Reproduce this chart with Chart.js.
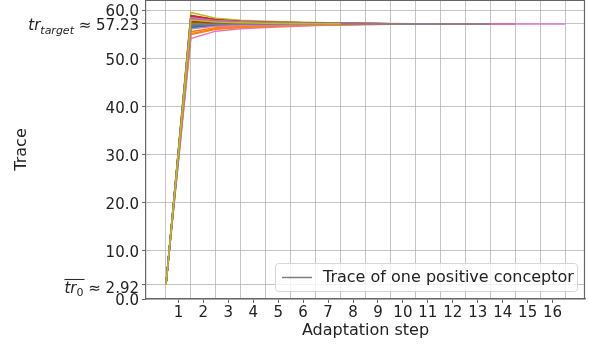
<!DOCTYPE html>
<html>
<head>
<meta charset="utf-8">
<script src="https://cdn.jsdelivr.net/npm/chart.js@4"></script>
<style>
  html, body { margin: 0; padding: 0; background: #fff; }
  #wrap { width: 590px; height: 344px; }
</style>
</head>
<body>
<div id="wrap"><canvas id="graph"></canvas></div>
<script>
// x positions of the adaptation steps (points sit between the labelled ticks)
const steps = [0.5, 1.5, 2.5, 3.5, 4.5, 5.5, 6.5, 7.5, 8.5, 9.5, 10.5, 11.5, 12.5, 13.5, 14.5, 15.5, 16.5];
const xTickLabels = [1, 2, 3, 4, 5, 6, 7, 8, 9, 10, 11, 12, 13, 14, 15, 16];
const yTickValues = [0, 2.92, 10, 20, 30, 40, 50, 57.23, 60];
const trStart = 2.92;
const trTarget = 57.23;
const legendLabel = 'Trace of one positive conceptor';

// one array per conceptor trace
const trace00 = [2.92, 56.4, 56.82, 56.96, 57.03, 57.09, 57.13, 57.16, 57.19, 57.2, 57.22, 57.23];
const trace01 = [2.92, 55.6, 56.42, 56.69, 56.84, 56.95, 57.03, 57.1, 57.15, 57.18, 57.21, 57.23];
const trace02 = [2.92, 57.4, 57.32, 57.29, 57.27, 57.26, 57.25, 57.24, 57.24, 57.24, 57.23, 57.23];
const trace03 = [2.92, 59.0, 58.12, 57.81, 57.65, 57.53, 57.44, 57.37, 57.32, 57.28, 57.26, 57.23];
const trace04 = [2.92, 58.6, 57.92, 57.68, 57.56, 57.46, 57.39, 57.34, 57.3, 57.27, 57.25, 57.23];
const trace05 = [2.92, 58.8, 58.02, 57.75, 57.61, 57.5, 57.42, 57.36, 57.31, 57.28, 57.25, 57.23];
const trace06 = [2.92, 54.2, 55.72, 56.23, 56.5, 56.71, 56.87, 56.99, 57.08, 57.14, 57.18, 57.23];
const trace07 = [2.92, 58.2, 57.72, 57.55, 57.46, 57.39, 57.35, 57.31, 57.28, 57.26, 57.24, 57.23];
const trace08 = [2.92, 59.6, 58.42, 58.01, 57.8, 57.63, 57.51, 57.42, 57.35, 57.3, 57.27, 57.23];
const trace09 = [2.92, 58.0, 57.62, 57.48, 57.41, 57.36, 57.32, 57.29, 57.27, 57.25, 57.24, 57.23];
const trace10 = [2.92, 56.6, 56.92, 57.02, 57.08, 57.12, 57.15, 57.18, 57.2, 57.21, 57.22, 57.23];
const trace11 = [2.92, 55.2, 56.22, 56.56, 56.74, 56.88, 56.99, 57.07, 57.13, 57.17, 57.2, 57.23];
const trace12 = [2.92, 57.6, 57.42, 57.35, 57.32, 57.29, 57.27, 57.26, 57.25, 57.24, 57.24, 57.23];
const trace13 = [2.92, 58.9, 58.07, 57.78, 57.63, 57.51, 57.43, 57.36, 57.31, 57.28, 57.26, 57.23];
const trace14 = [2.92, 58.4, 57.82, 57.62, 57.51, 57.43, 57.37, 57.32, 57.29, 57.27, 57.25, 57.23];
const trace15 = [2.92, 57.0, 57.12, 57.15, 57.17, 57.19, 57.2, 57.21, 57.22, 57.22, 57.23];
const trace16 = [2.92, 58.5, 57.87, 57.65, 57.53, 57.45, 57.38, 57.33, 57.29, 57.27, 57.25, 57.23];
const trace17 = [2.92, 57.9, 57.57, 57.45, 57.39, 57.34, 57.31, 57.28, 57.26, 57.25, 57.24, 57.23];
const trace18 = [2.92, 57.3, 57.27, 57.25, 57.25, 57.24, 57.24, 57.23];
const trace19 = [2.92, 57.8, 57.52, 57.42, 57.37, 57.33, 57.3, 57.28, 57.26, 57.25, 57.24, 57.23];
const trace20 = [2.92, 56.9, 57.07, 57.12, 57.15, 57.17, 57.19, 57.2, 57.21, 57.22, 57.23];
const trace21 = [2.92, 55.0, 56.12, 56.49, 56.69, 56.85, 56.96, 57.05, 57.12, 57.16, 57.2, 57.23];
const trace22 = [2.92, 57.5, 57.37, 57.32, 57.29, 57.28, 57.26, 57.25, 57.24, 57.24, 57.23];
const trace23 = [2.92, 57.7, 57.47, 57.39, 57.34, 57.31, 57.29, 57.27, 57.25, 57.24, 57.24, 57.23, 57.23, 57.23, 57.23];
const trace24 = [2.92, 58.3, 57.77, 57.58, 57.49, 57.41, 57.36, 57.32, 57.28, 57.26, 57.25, 57.23];
const trace25 = [2.92, 57.1, 57.17, 57.19, 57.2, 57.21, 57.22, 57.22, 57.23];
const trace26 = [2.92, 56.2, 56.72, 56.89, 56.98, 57.05, 57.11, 57.15, 57.18, 57.2, 57.21, 57.23, 57.23, 57.23, 57.23, 57.23, 57.23];
const trace27 = [2.92, 57.0, 57.12, 57.15, 57.17, 57.19, 57.2, 57.21, 57.22, 57.22, 57.23, 57.23, 57.23, 57.23];
const trace28 = [2.92, 58.1, 57.62, 57.45, 57.36, 57.3, 57.26, 57.24];

const traces = [trace00, trace01, trace02, trace03, trace04, trace05, trace06, trace07, trace08, trace09,
  trace10, trace11, trace12, trace13, trace14, trace15, trace16, trace17, trace18, trace19,
  trace20, trace21, trace22, trace23, trace24, trace25, trace26, trace27, trace28];

const tab10 = ['#1f77b4', '#ff7f0e', '#2ca02c', '#d62728', '#9467bd', '#8c564b', '#e377c2', '#7f7f7f', '#bcbd22', '#17becf'];

const FONT = 'DejaVu Sans';
const textColor = '#222';
const gridColor = 'rgba(176,176,176,0.75)';
const spineColor = '#666';

const datasets = traces.map((tr, i) => ({
  label: 'trace ' + i,
  data: tr.map((v, j) => ({ x: steps[j], y: v })),
  borderColor: tab10[i % 10],
  borderWidth: 1.5,
  pointRadius: 0,
  fill: false,
  tension: 0,
  order: traces.length - i   // later traces on top, like matplotlib
}));

// draws a label like "tr_target ≈ 57.23" piece by piece, right aligned
function drawParts(ctx, parts, rightX, y) {
  let total = 0;
  parts.forEach(p => { ctx.font = p.font; p.w = ctx.measureText(p.text).width; total += p.w; });
  let x = rightX - total;
  ctx.textAlign = 'left';
  ctx.textBaseline = 'alphabetic';
  ctx.fillStyle = textColor;
  parts.forEach(p => {
    ctx.font = p.font;
    ctx.fillText(p.text, x, y + (p.dy || 0));
    p.x = x;
    x += p.w;
  });
  return parts;
}

const extrasPlugin = {
  id: 'extras',
  afterDraw(chart) {
    const ctx = chart.ctx;
    const a = chart.chartArea;
    const ys = chart.scales.y;
    ctx.save();

    // right and top spines
    ctx.strokeStyle = spineColor;
    ctx.lineWidth = 1.2;
    ctx.beginPath();
    ctx.moveTo(a.left, a.top + 0.5);
    ctx.lineTo(a.right - 0.5, a.top + 0.5);
    ctx.lineTo(a.right - 0.5, a.bottom);
    ctx.stroke();

    // special y labels
    const rx = a.left - 7;
    const yT = ys.getPixelForValue(trTarget) + 6.5;
    drawParts(ctx, [
      { text: 'tr', font: 'italic 15px ' + FONT },
      { text: 'target', font: 'italic 11px ' + FONT, dy: 3.5 },
      { text: ' \u2248 57.23', font: '15px ' + FONT }
    ], rx, yT);

    const y0 = ys.getPixelForValue(trStart) + 8.5;
    const p = drawParts(ctx, [
      { text: 'tr', font: 'italic 15px ' + FONT },
      { text: '0', font: '11px ' + FONT, dy: 3 },
      { text: ' \u2248 2.92', font: '15px ' + FONT }
    ], rx, y0);
    ctx.strokeStyle = textColor;
    ctx.lineWidth = 1;
    ctx.beginPath();
    ctx.moveTo(p[0].x, y0 - 14);
    ctx.lineTo(p[1].x + p[1].w + 1, y0 - 14);
    ctx.stroke();

    // legend box
    const bx = 275, by = 263, bw = 302, bh = 28;
    ctx.fillStyle = 'rgba(255,255,255,0.8)';
    ctx.strokeStyle = '#d6d6d6';
    ctx.lineWidth = 1;
    ctx.beginPath();
    ctx.roundRect(bx + 0.5, by + 0.5, bw, bh, 3);
    ctx.fill();
    ctx.stroke();
    ctx.strokeStyle = '#7f7f7f';
    ctx.lineWidth = 1.5;
    ctx.beginPath();
    ctx.moveTo(bx + 7, by + 14.5);
    ctx.lineTo(bx + 37, by + 14.5);
    ctx.stroke();
    ctx.fillStyle = textColor;
    ctx.font = '16px ' + FONT;
    ctx.textBaseline = 'middle';
    ctx.textAlign = 'left';
    ctx.fillText(legendLabel, bx + 48, by + 15);

    ctx.restore();
  }
};

const ctx = document.getElementById('graph').getContext('2d');

new Chart(ctx, {
  type: 'line',
  data: { datasets: datasets },
  plugins: [extrasPlugin],
  options: {
    responsive: true,
    maintainAspectRatio: false,
    animation: false,
    layout: { padding: { top: 0, right: 5, left: 0, bottom: 0 } },
    plugins: {
      legend: { display: false },
      tooltip: { enabled: false }
    },
    scales: {
      x: {
        type: 'linear',
        min: -0.3,
        max: 17.3,
        afterBuildTicks: (scale) => {
          const t = [];
          steps.forEach(s => t.push({ value: s }));
          xTickLabels.forEach(v => t.push({ value: v }));
          t.sort((p, q) => p.value - q.value);
          scale.ticks = t;
        },
        afterFit: (scale) => {
          scale.height = 45;
          scale.paddingLeft = 0;
          scale.paddingRight = 0;
        },
        ticks: {
          autoSkip: false,
          maxRotation: 0,
          padding: 1,
          color: textColor,
          font: { family: FONT, size: 15 },
          callback: (v) => Number.isInteger(v) ? String(v) : ''
        },
        grid: {
          color: (c) => (c.tick && Number.isInteger(c.tick.value)) ? 'rgba(0,0,0,0)' : gridColor,
          tickColor: (c) => (c.tick && Number.isInteger(c.tick.value)) ? spineColor : 'rgba(0,0,0,0)',
          tickLength: 4,
          lineWidth: 1
        },
        border: { display: true, color: spineColor, width: 1.2 },
        title: {
          display: true,
          text: 'Adaptation step',
          color: textColor,
          font: { family: FONT, size: 16 },
          padding: { top: 0, bottom: 4 }
        }
      },
      y: {
        min: 0,
        max: 62.2,
        afterBuildTicks: (scale) => {
          scale.ticks = yTickValues.map(v => ({ value: v }));
        },
        afterFit: (scale) => {
          scale.width = 146;
          scale.paddingTop = 0;
          scale.paddingBottom = 0;
        },
        ticks: {
          autoSkip: false,
          padding: 3,
          labelOffset: 2,
          color: textColor,
          font: { family: FONT, size: 15 },
          callback: (v) => (v === trStart || v === trTarget) ? '' : Number(v).toFixed(1)
        },
        grid: {
          color: gridColor,
          tickColor: spineColor,
          tickLength: 4,
          lineWidth: 1
        },
        border: { display: true, color: spineColor, width: 1.2 },
        title: {
          display: true,
          text: 'Trace',
          color: textColor,
          font: { family: FONT, size: 16 },
          padding: { top: 12, bottom: 0 }
        }
      }
    }
  }
});
</script>
</body>
</html>
